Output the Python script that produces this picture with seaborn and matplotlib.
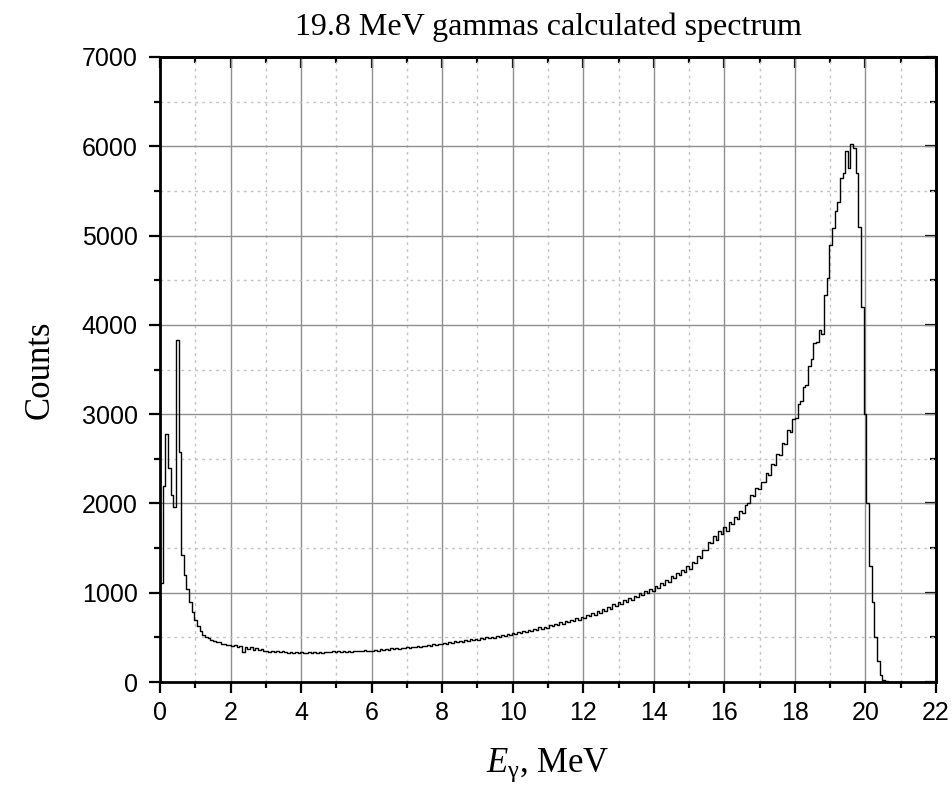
import numpy as np
import pandas as pd
import matplotlib
matplotlib.use("Agg")
import matplotlib.pyplot as plt
import seaborn as sns
from matplotlib.ticker import MultipleLocator

# ---- data (histogram, bin width 0.075 MeV, starting at 0 MeV) ----
bin_width = 0.075
energy_start = 0.0
counts = [
    # 0.0 - 1.5 MeV
    1110, 2200, 2780, 2400, 2100, 1960, 3830, 2580, 1420, 1200,
    1040, 900, 780, 690, 625, 575, 530, 500, 488, 470,
    # 1.5 - 3.0 MeV
    462, 448, 452, 431, 430, 412, 418, 400, 409, 390,
    398, 335, 392, 371, 388, 362, 380, 356, 366, 345,
    # 3.0 - 4.5 MeV
    352, 341, 349, 338, 345, 333, 342, 336, 330, 339,
    328, 337, 325, 334, 329, 322, 333, 327, 338, 330,
    # 4.5 - 6.0 MeV
    336, 330, 341, 333, 339, 345, 334, 342, 337, 348,
    338, 345, 340, 351, 342, 349, 343, 356, 346, 352,
    # 6.0 - 7.5 MeV
    347, 360, 352, 366, 358, 371, 362, 377, 368, 380,
    372, 386, 378, 390, 383, 396, 388, 402, 395, 408,
    # 7.5 - 9.0 MeV
    402, 415, 408, 423, 416, 431, 424, 438, 430, 446,
    437, 455, 445, 461, 452, 470, 458, 477, 466, 484,
    # 9.0 - 10.5 MeV
    476, 492, 483, 499, 490, 508, 498, 516, 507, 527,
    515, 538, 526, 548, 540, 561, 550, 574, 562, 583,
    # 10.5 - 12.0 MeV
    576, 598, 585, 612, 596, 621, 606, 635, 622, 650,
    636, 667, 651, 684, 668, 699, 683, 716, 698, 729,
    # 12.0 - 13.5 MeV
    716, 748, 735, 770, 752, 794, 772, 818, 796, 845,
    823, 872, 847, 898, 875, 921, 893, 945, 922, 968,
    # 13.5 - 15.0 MeV
    950, 992, 972, 1018, 996, 1045, 1020, 1072, 1050, 1112,
    1085, 1148, 1125, 1183, 1160, 1221, 1195, 1258, 1232, 1295,
    # 15.0 - 16.5 MeV
    1270, 1340, 1330, 1410, 1390, 1480, 1475, 1570, 1555, 1640,
    1595, 1690, 1660, 1735, 1690, 1790, 1770, 1850, 1830, 1910,
    # 16.5 - 18.0 MeV
    1890, 1985, 2010, 2090, 2080, 2170, 2160, 2240, 2235, 2340,
    2320, 2440, 2430, 2550, 2540, 2680, 2670, 2820, 2800, 2950,
    # 18.0 - 19.5 MeV
    2960, 3110, 3150, 3300, 3330, 3540, 3620, 3800, 3810, 3940,
    3900, 4330, 4520, 4900, 5080, 5270, 5380, 5640, 5700, 5950,
    # 19.5 - 21.0 MeV
    5760, 6030, 5980, 5700, 5100, 4200, 3000, 2000, 1300, 900,
    500, 230, 80, 25, 8, 2, 1, 0, 0, 0,
]

title = "19.8 MeV gammas calculated spectrum"
x_label = r"$\mathit{E}_{\mathrm{γ}}$, MeV"
y_label = "Counts"
x_ticks = [0, 2, 4, 6, 8, 10, 12, 14, 16, 18, 20, 22]
y_ticks = [0, 1000, 2000, 3000, 4000, 5000, 6000, 7000]

n_bins = len(counts)
centers = energy_start + bin_width * (np.arange(n_bins) + 0.5)
energy_end = energy_start + bin_width * n_bins
df = pd.DataFrame({"energy": centers, "counts": counts})

# ---- style ----
sns.set_theme(style="ticks")
plt.rcParams["font.family"] = ["Liberation Sans", "DejaVu Sans"]
plt.rcParams["mathtext.fontset"] = "custom"
plt.rcParams["mathtext.rm"] = "Liberation Serif"
plt.rcParams["mathtext.it"] = "Liberation Serif:italic"
plt.rcParams["text.color"] = "black"
plt.rcParams["axes.labelcolor"] = "black"

fig = plt.figure(figsize=(9.53, 7.93), dpi=100)
ax = fig.add_axes([160 / 953, 1 - 682 / 793, (936 - 160) / 953, (682 - 57) / 793])

sns.histplot(data=df, x="energy", weights="counts", binwidth=bin_width,
             binrange=(energy_start, energy_end),
             element="step", fill=False, color="black", linewidth=1.0, ax=ax)

ax.set_xlim(0, 22)
ax.set_ylim(0, 7000)
ax.set_xticks(x_ticks)
ax.set_yticks(y_ticks)
ax.xaxis.set_minor_locator(MultipleLocator(1))
ax.yaxis.set_minor_locator(MultipleLocator(500))

ax.grid(which="major", color="#8f8f8f", linewidth=1.0, linestyle="-")
ax.grid(which="minor", color="#c4c4c4", linewidth=1.0, linestyle=(0, (2, 3)))
ax.set_axisbelow(True)

for s in ax.spines.values():
    s.set_visible(True)
    s.set_color("black")
    s.set_linewidth(2.0)

ax.tick_params(which="both", bottom=True, left=True, top=False, right=False,
               direction="out", width=1.6, color="black", labelcolor="black")
ax.tick_params(which="major", length=8)
ax.tick_params(which="minor", length=4)
ax.tick_params(axis="x", which="major", labelsize=18, pad=6)
ax.tick_params(axis="y", which="major", labelsize=18, pad=8)

# mirrored top/right ticks pointing inward
secx = ax.secondary_xaxis("top")
secx.set_xticks(x_ticks)
secx.xaxis.set_minor_locator(MultipleLocator(1))
secx.tick_params(which="both", top=True, bottom=False, labeltop=False,
                 direction="in", width=1.6, color="black")
secx.tick_params(which="major", length=8)
secx.tick_params(which="minor", length=4)
secx.spines["top"].set_linewidth(2.0)
secy = ax.secondary_yaxis("right")
secy.set_yticks(y_ticks)
secy.yaxis.set_minor_locator(MultipleLocator(500))
secy.tick_params(which="both", right=True, left=False, labelright=False,
                 direction="in", width=1.6, color="black")
secy.tick_params(which="major", length=8)
secy.tick_params(which="minor", length=4)
secy.spines["right"].set_linewidth(2.0)

ax.set_xlabel(x_label, fontsize=25, family="Liberation Serif", labelpad=15,
              color="black")
ax.set_ylabel(y_label, fontsize=25, family="Liberation Serif", labelpad=18,
              color="black")
ax.set_title(title, fontsize=23, family="Liberation Serif", pad=16, color="black")

fig.savefig("out.png", dpi=100, facecolor="white")
